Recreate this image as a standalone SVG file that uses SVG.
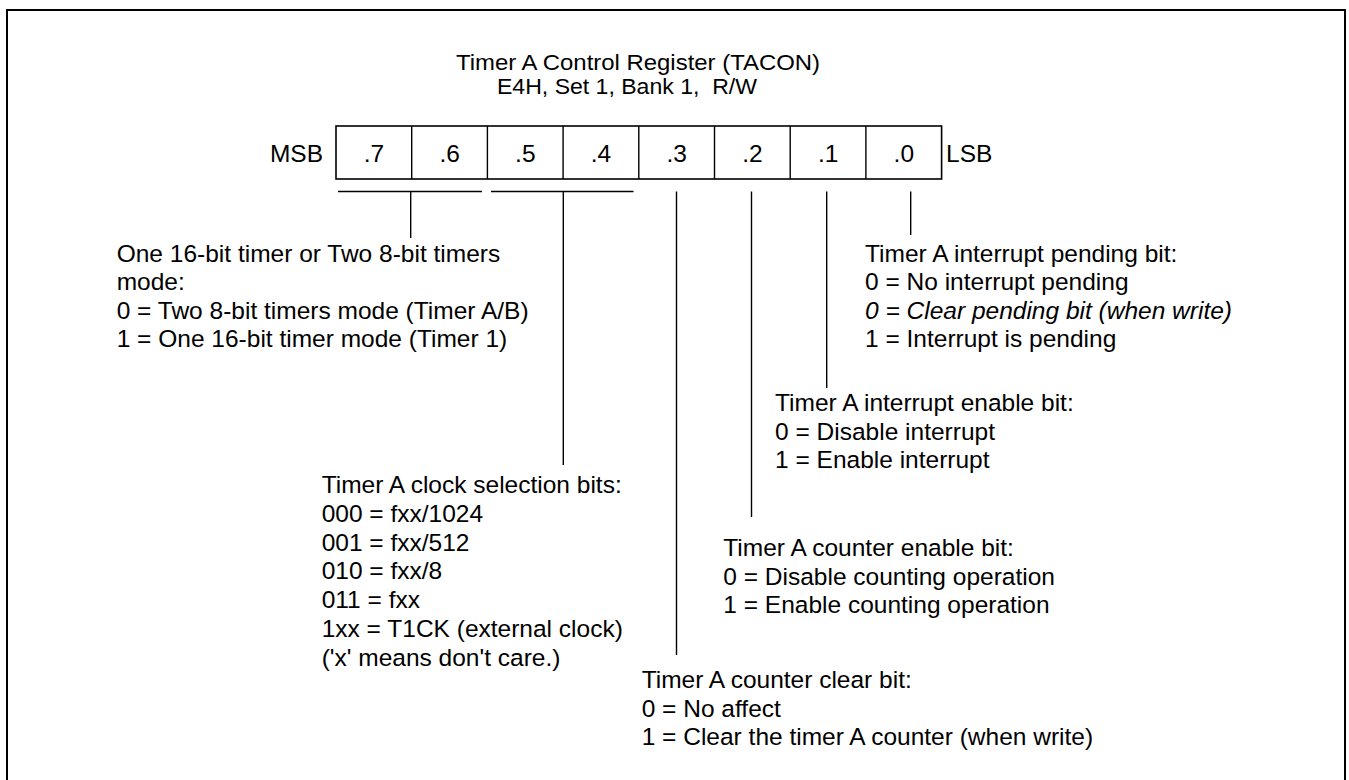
<svg xmlns="http://www.w3.org/2000/svg" width="1349" height="780" viewBox="0 0 1349 780">
<style>
text{font-family:"Liberation Sans",Arial,sans-serif;fill:#000}
.t{font-size:22px}
.b{font-size:24.5px}
.c{text-anchor:middle}
.i{font-style:italic}
.box{fill:#fff;stroke:#000;stroke-width:1.6}
.ln{stroke:#000;stroke-width:1.4;fill:none}
</style>
<rect x="0" y="0" width="1349" height="780" fill="#fff"/>
<rect x="7" y="10" width="1338" height="790" fill="none" stroke="#000" stroke-width="2"/>
<g id="title">
<text class="t" x="456" y="69.5" textLength="364" lengthAdjust="spacingAndGlyphs">Timer A Control Register (TACON)</text>
<text class="t" x="497" y="94" xml:space="preserve" textLength="260" lengthAdjust="spacingAndGlyphs">E4H, Set 1, Bank 1,  R/W</text>
</g>
<g id="register">
<text class="b" x="323" y="162" text-anchor="end">MSB</text>
<rect class="box" x="336" y="126" width="605.6" height="53"/>
<path class="ln" d="M411.7 126V179M487.4 126V179M563.1 126V179M638.8 126V179M714.5 126V179M790.2 126V179M865.9 126V179"/>
<text class="b c" x="373.9" y="162">.7</text>
<text class="b c" x="449.6" y="162">.6</text>
<text class="b c" x="525.3" y="162">.5</text>
<text class="b c" x="601" y="162">.4</text>
<text class="b c" x="676.7" y="162">.3</text>
<text class="b c" x="752.4" y="162">.2</text>
<text class="b c" x="828.1" y="162">.1</text>
<text class="b c" x="903.8" y="162">.0</text>
<text class="b" x="946" y="162">LSB</text>
</g>
<g id="connectors">
<path class="ln" d="M338 191.5H482M410.7 191.5V238"/>
<path class="ln" d="M491 191.5H633.5M563.3 191.5V465"/>
<path class="ln" d="M676.5 191.5V655"/>
<path class="ln" d="M751.5 191.5V517"/>
<path class="ln" d="M826.7 191.5V388"/>
<path class="ln" d="M910.7 191.5V235"/>
</g>
<g id="bits76">
<text class="b" x="116.7" y="261.5">One 16-bit timer or Two 8-bit timers</text>
<text class="b" x="116.7" y="290">mode:</text>
<text class="b" x="116.7" y="318.5">0 = Two 8-bit timers mode (Timer A/B)</text>
<text class="b" x="116.7" y="347">1 = One 16-bit timer mode (Timer 1)</text>
</g>
<g id="bit0">
<text class="b" x="865" y="261.5">Timer A interrupt pending bit:</text>
<text class="b" x="865" y="290">0 = No interrupt pending</text>
<text class="b i" x="865" y="318.5">0 = Clear pending bit (when write)</text>
<text class="b" x="865" y="347">1 = Interrupt is pending</text>
</g>
<g id="bit1">
<text class="b" x="775" y="411">Timer A interrupt enable bit:</text>
<text class="b" x="775" y="439.5">0 = Disable interrupt</text>
<text class="b" x="775" y="468">1 = Enable interrupt</text>
</g>
<g id="bits54">
<text class="b" x="321.7" y="493">Timer A clock selection bits:</text>
<text class="b" x="321.7" y="521.8">000 = fxx/1024</text>
<text class="b" x="321.7" y="550.6">001 = fxx/512</text>
<text class="b" x="321.7" y="579.4">010 = fxx/8</text>
<text class="b" x="321.7" y="608.2">011 = fxx</text>
<text class="b" x="321.7" y="637">1xx = T1CK (external clock)</text>
<text class="b" x="321.7" y="665.8">('x' means don't care.)</text>
</g>
<g id="bit2">
<text class="b" x="723.3" y="555.5">Timer A counter enable bit:</text>
<text class="b" x="723.3" y="584.5">0 = Disable counting operation</text>
<text class="b" x="723.3" y="613">1 = Enable counting operation</text>
</g>
<g id="bit3">
<text class="b" x="641.7" y="688.3">Timer A counter clear bit:</text>
<text class="b" x="641.7" y="716.7">0 = No affect</text>
<text class="b" x="641.7" y="745">1 = Clear the timer A counter (when write)</text>
</g>
</svg>
